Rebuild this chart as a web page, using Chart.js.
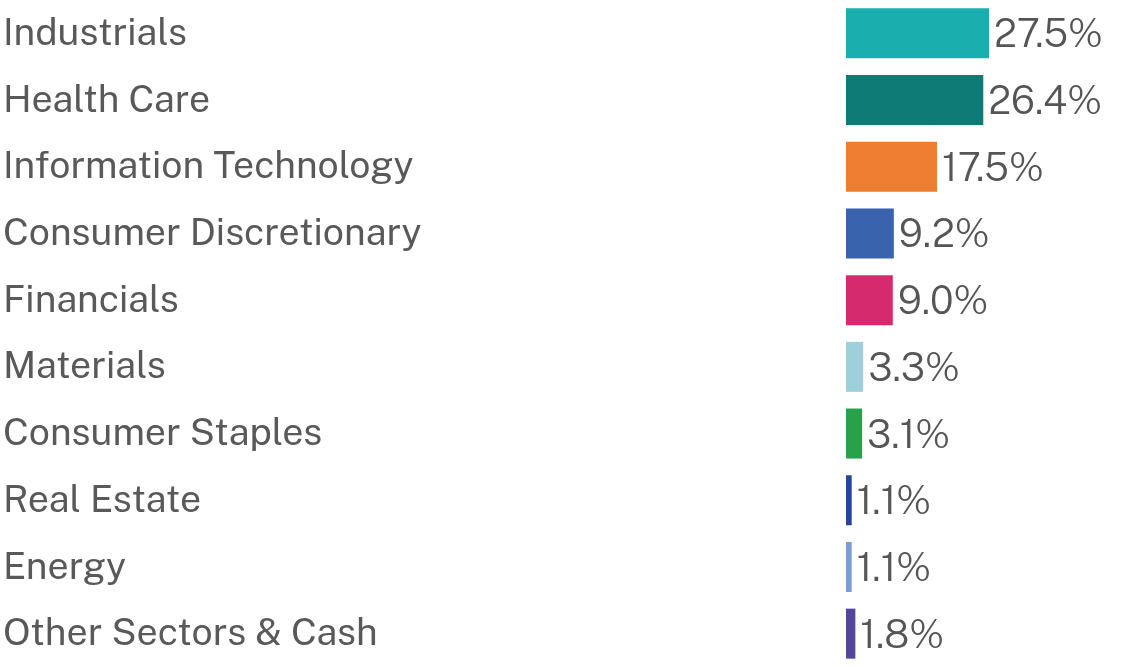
<!DOCTYPE html>
<html>
<head>
<meta charset="utf-8">
<script src="https://cdn.jsdelivr.net/npm/chart.js@4"></script>
<style>
html,body{margin:0;padding:0;background:#fff;}
#wrap{width:1125px;height:667px;position:relative;}
</style>
</head>
<body>
<div id="wrap"><canvas id="c"></canvas></div>
<script>
const categories = ["Industrials","Health Care","Information Technology","Consumer Discretionary","Financials","Materials","Consumer Staples","Real Estate","Energy","Other Sectors & Cash"];
const values = [27.5,26.4,17.5,9.2,9.0,3.3,3.1,1.1,1.1,1.8];
const valueLabels = ["27.5%","26.4%","17.5%","9.2%","9.0%","3.3%","3.1%","1.1%","1.1%","1.8%"];
const colors = ["#1AAFAE","#0F7B76","#ED7D31","#3A63AD","#D62A6E","#9ED0DA","#2AA04A","#24479A","#7A9ED2","#54479A"];

const valuePlugin = {
  id:'valueLabels',
  afterDatasetsDraw(chart){
    const ctx = chart.ctx;
    const meta = chart.getDatasetMeta(0);
    ctx.save();
    ctx.font = '300 39px "Public Sans", "Liberation Sans", Arial, sans-serif';
    ctx.fillStyle = '#555555';
    ctx.textAlign = 'left';
    ctx.textBaseline = 'middle';
    meta.data.forEach((bar,i)=>{
      ctx.fillText(valueLabels[i], bar.x + 5, bar.y + 2);
    });
    ctx.restore();
  }
};

new Chart(document.getElementById('c'),{
  type:'bar',
  data:{labels:categories,datasets:[{data:values,backgroundColor:colors,borderWidth:0,categoryPercentage:1,barPercentage:0.75}]},
  options:{
    indexAxis:'y',
    responsive:true,
    maintainAspectRatio:false,
    animation:false,
    layout:{padding:{left:3,right:19,top:0,bottom:0}},
    plugins:{legend:{display:false},tooltip:{enabled:false}},
    scales:{
      x:{min:0,max:50,display:false},
      y:{
        grid:{display:false,drawTicks:false},
        border:{display:false},
        ticks:{crossAlign:'far',padding:0,color:'#595959',font:{family:'"Public Sans", "Liberation Sans", Arial, sans-serif',size:37.5,weight:'normal'}},
        afterFit(scale){scale.width = 843; scale.paddingTop = 0; scale.paddingBottom = 0;}
      }
    }
  },
  plugins:[valuePlugin]
});
</script>
</body>
</html>
